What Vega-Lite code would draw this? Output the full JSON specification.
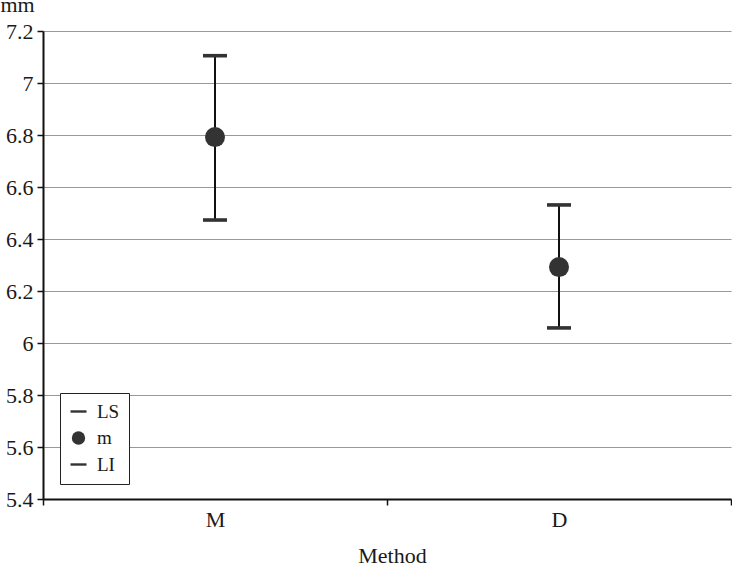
{
  "$schema": "https://vega.github.io/schema/vega-lite/v6.json",
  "width": 688,
  "height": 468,
  "autosize": {"type": "none"},
  "padding": {"left": 43, "top": 31, "right": 1, "bottom": 66},
  "background": "white",
  "config": {
    "view": {"stroke": null},
    "font": "Liberation Serif",
    "axis": {"labelFont": "Liberation Serif", "titleFont": "Liberation Serif", "labelColor": "#1a1a1a", "titleColor": "#1a1a1a", "titleFontWeight": "normal"},
    "legend": {"labelFont": "Liberation Serif"}
  },
  "data": {
    "values": [
      {"method": "M", "LS": 7.105, "m": 6.792, "LI": 6.473},
      {"method": "D", "LS": 6.531, "m": 6.292, "LI": 6.058}
    ]
  },
  "layer": [
    {
      "mark": {"type": "rule", "color": "#111", "strokeWidth": 2},
      "encoding": {
        "x": {"field": "method", "type": "nominal", "sort": ["M", "D"], "scale": {"type": "band", "paddingInner": 0, "paddingOuter": 0},
          "axis": {"title": "Method", "labelAngle": 0, "labelFontSize": 22, "labelPadding": 4, "tickBand": "extent", "ticks": true, "tickSize": 6, "tickColor": "#111", "tickWidth": 1.5, "domainColor": "#111", "domainWidth": 2, "grid": false,
            "titleFontSize": 22, "titleX": 349, "titleY": 63, "titleBaseline": "alphabetic", "titleAlign": "center"}},
        "y": {"field": "LI", "type": "quantitative", "scale": {"domain": [5.4, 7.2], "nice": false, "zero": false},
          "axis": {"title": "mm", "values": [5.4, 5.6, 5.8, 6, 6.2, 6.4, 6.6, 6.8, 7, 7.2], "format": "~g", "labelFontSize": 22, "labelPadding": 4, "tickSize": 6, "tickColor": "#111", "tickWidth": 1.5, "domainColor": "#111", "domainWidth": 2, "grid": true, "gridColor": "#999", "gridWidth": 1,
            "titleAngle": 0, "titleFontSize": 22, "titleX": -43, "titleY": -20, "titleAlign": "left", "titleBaseline": "alphabetic"}},
        "y2": {"field": "LS"}
      }
    },
    {
      "transform": [{"fold": ["LS", "m", "LI"], "as": ["stat", "value"]}],
      "mark": {"type": "point", "filled": true, "color": "#333", "opacity": 1, "size": 400, "strokeWidth": 0},
      "encoding": {
        "x": {"field": "method", "type": "nominal", "sort": ["M", "D"]},
        "y": {"field": "value", "type": "quantitative"},
        "shape": {"field": "stat", "type": "nominal",
          "scale": {"domain": ["LS", "m", "LI"], "range": ["M-1.2,-0.18H1.2V0.18H-1.2Z", "circle", "M-1.2,-0.18H1.2V0.18H-1.2Z"]},
          "legend": {"title": null, "orient": "none", "legendX": 17, "legendY": 362, "fillColor": "white", "strokeColor": "#222", "padding": 9, "rowPadding": 6.5, "labelFontSize": 19, "labelColor": "#1a1a1a", "labelOffset": 9, "symbolSize": 178, "symbolFillColor": "#333", "symbolStrokeWidth": 0, "symbolOpacity": 1,
            "encode": {"legend": {"update": {"strokeWidth": {"value": 1.5}}}}}}
      }
    }
  ]
}
